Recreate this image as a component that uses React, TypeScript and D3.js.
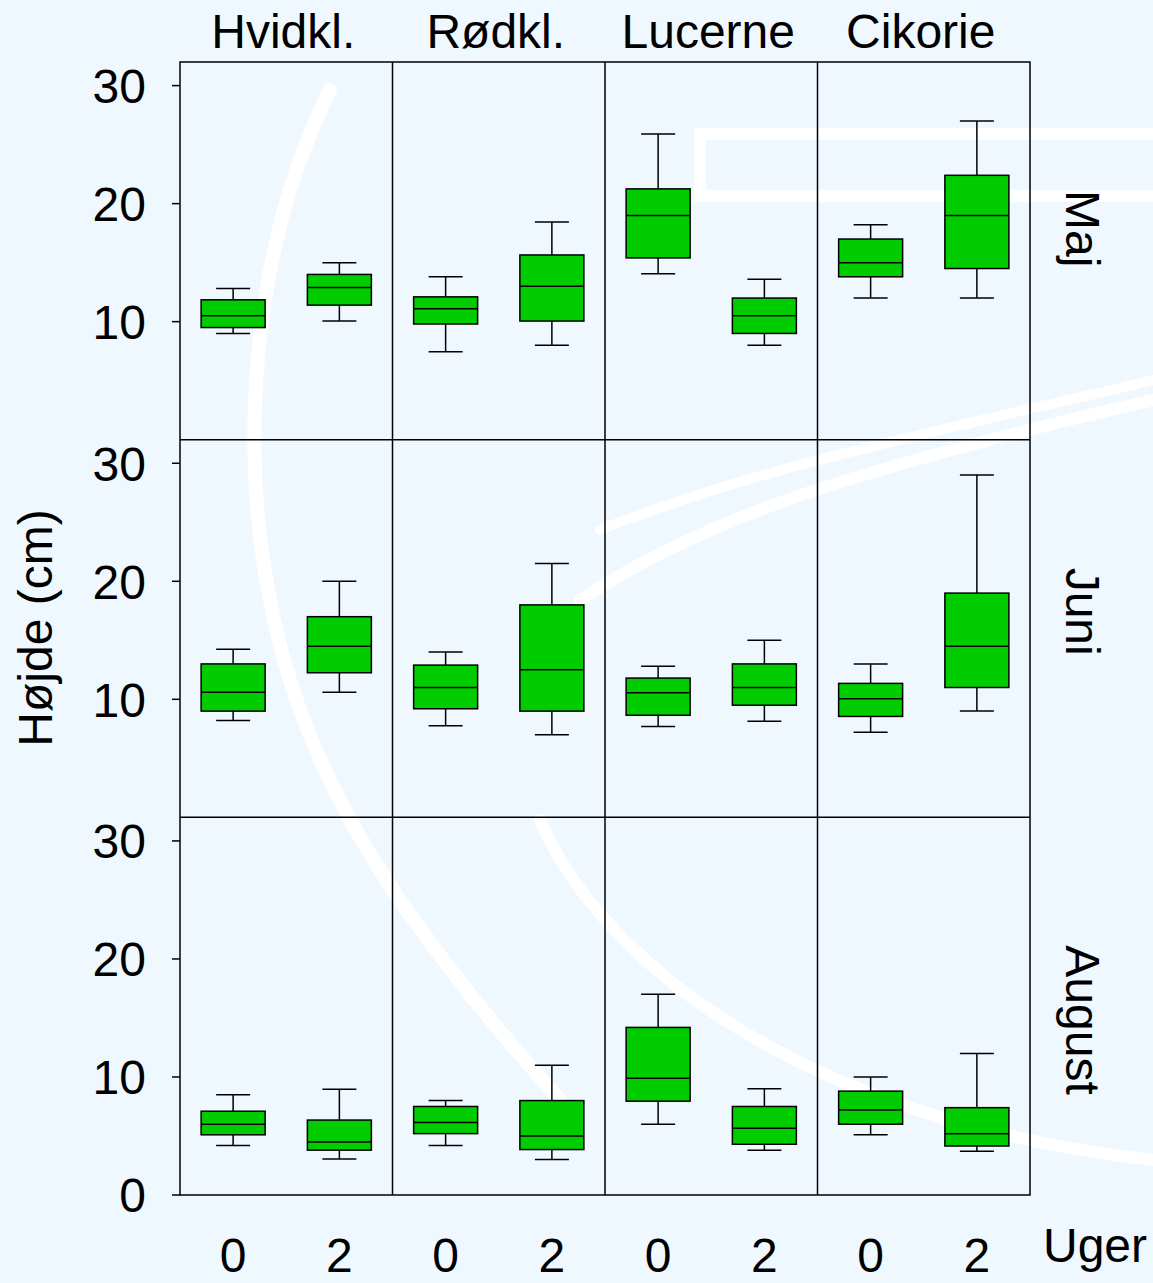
import React, { useLayoutEffect } from "react";
import * as d3 from "d3";

// ---- data ----
const columns = ["Hvidkl.", "Rødkl.", "Lucerne", "Cikorie"];
const months = ["Maj", "Juni", "August"];
const weeks = ["0", "2"];
// [lower whisker, Q1, median, Q3, upper whisker] per column, per week (0, 2)
const majStats: number[][] = [
  [9.0, 9.5, 10.5, 11.85, 12.8], [10.05, 11.4, 12.9, 14.0, 15.0],
  [7.45, 9.8, 11.1, 12.1, 13.8], [8.0, 10.05, 13.0, 15.65, 18.45],
  [14.05, 15.4, 19.0, 21.25, 25.9], [8.0, 9.0, 10.5, 12.0, 13.6],
  [12.0, 13.8, 15.0, 17.0, 18.2], [12.0, 14.5, 19.0, 22.4, 27.0],
];
const juniStats: number[][] = [
  [8.2, 9.0, 10.6, 13.0, 14.25], [10.6, 12.25, 14.5, 17.0, 20.0],
  [7.75, 9.2, 11.0, 12.9, 14.0], [7.0, 9.0, 12.5, 18.0, 21.5],
  [7.7, 8.65, 10.55, 11.8, 12.8], [8.15, 9.5, 11.0, 13.0, 15.0],
  [7.2, 8.55, 10.05, 11.35, 13.0], [9.0, 11.0, 14.5, 19.0, 29.0],
];
const augustStats: number[][] = [
  [4.2, 5.1, 6.0, 7.1, 8.5], [3.05, 3.8, 4.5, 6.35, 8.95],
  [4.2, 5.2, 6.15, 7.5, 8.0], [3.0, 3.85, 5.0, 8.0, 11.0],
  [6.0, 7.95, 9.9, 14.2, 17.0], [3.8, 4.3, 5.65, 7.5, 9.0],
  [5.1, 6.0, 7.2, 8.8, 10.0], [3.7, 4.15, 5.2, 7.4, 12.0],
];
const allStats = [majStats, juniStats, augustStats];
const yTicksUpper = [10, 20, 30];
const yTicksBottom = [0, 10, 20, 30];
const yLabel = "Højde (cm)";
const xLabel = "Uger";

// ---- layout ----
const W = 1153;
const H = 1283;
const left = 180;
const right = 1030;
const top = 62;
const bottom = 1195;
const FONT = "'Liberation Sans', Arial, Helvetica, sans-serif";
const BG = "#f0f8ff";
const GREEN = "#00cc00";

export default function App() {
  useLayoutEffect(() => {
    document.body.style.margin = "0";
    document.body.style.background = BG;
    document.documentElement.style.background = BG;
  }, []);

  const colScale = d3.scaleBand<string>().domain(columns).range([left, right]).paddingInner(0).paddingOuter(0);
  const rowScale = d3.scaleBand<string>().domain(months).range([top, bottom]).paddingInner(0).paddingOuter(0);
  const cw = colScale.bandwidth();
  const rh = rowScale.bandwidth();
  const weekScale = d3.scalePoint<string>().domain(weeks).range([0, cw]).padding(0.5);
  const boxW = 64;
  const capW = 34;

  return (
    <div style={{ width: W, height: H, background: BG }}>
      <svg width={W} height={H} style={{ display: "block", fontFamily: FONT }}>
        <rect x={0} y={0} width={W} height={H} fill={BG} />
        {/* faint watermark */}
        <g fill="none" stroke="#ffffff" strokeLinecap="round">
          <rect x={700} y={134} width={470} height={62} strokeWidth={12} />
          <path d="M580,600 C700,520 850,470 1153,400" strokeWidth={12} />
          <path d="M600,530 C750,470 900,440 1153,380" strokeWidth={10} />
          <path d="M540,820 C600,960 800,1120 1153,1160" strokeWidth={12} />
          <path d="M330,90 C250,250 240,450 270,600 C300,760 380,900 560,1100" strokeWidth={14} />
        </g>

        {months.map((m, r) => {
          const y0 = rowScale(m)!;
          const y = d3.scaleLinear().domain([0, 32]).range([y0 + rh, y0]);
          const ticks = r === months.length - 1 ? yTicksBottom : yTicksUpper;
          return (
            <g key={m}>
              {ticks.map((t) => (
                <g key={t}>
                  <line x1={left - 8} x2={left} y1={y(t)} y2={y(t)} stroke="#000" strokeWidth={1.5} />
                  <text x={146} y={y(t)} dy="0.36em" textAnchor="end" fontSize={48} fill="#000">
                    {t}
                  </text>
                </g>
              ))}
              {columns.map((c, ci) => {
                const x0 = colScale(c)!;
                return weeks.map((wk, wi) => {
                  const s = allStats[r][ci * 2 + wi];
                  const cx = x0 + weekScale(wk)!;
                  return (
                    <g key={c + wk}>
                      <line x1={cx} x2={cx} y1={y(s[3])} y2={y(s[4])} stroke="#000" strokeWidth={1.5} />
                      <line x1={cx} x2={cx} y1={y(s[0])} y2={y(s[1])} stroke="#000" strokeWidth={1.5} />
                      <line x1={cx - capW / 2} x2={cx + capW / 2} y1={y(s[4])} y2={y(s[4])} stroke="#000" strokeWidth={1.5} />
                      <line x1={cx - capW / 2} x2={cx + capW / 2} y1={y(s[0])} y2={y(s[0])} stroke="#000" strokeWidth={1.5} />
                      <rect
                        x={cx - boxW / 2}
                        y={y(s[3])}
                        width={boxW}
                        height={y(s[1]) - y(s[3])}
                        fill={GREEN}
                        stroke="#000"
                        strokeWidth={1.5}
                      />
                      <line x1={cx - boxW / 2} x2={cx + boxW / 2} y1={y(s[2])} y2={y(s[2])} stroke="#000" strokeWidth={1.5} />
                    </g>
                  );
                });
              })}
              {r > 0 && <line x1={left} x2={right} y1={y0} y2={y0} stroke="#000" strokeWidth={1.5} />}
              <text
                transform={`translate(1066,${y0 + 128}) rotate(90)`}
                textAnchor="start"
                fontSize={48}
                fill="#000"
              >
                {m}
              </text>
            </g>
          );
        })}

        {columns.map((c, ci) => {
          const x0 = colScale(c)!;
          return (
            <g key={c}>
              {ci > 0 && <line x1={x0} x2={x0} y1={top} y2={bottom} stroke="#000" strokeWidth={1.5} />}
              <text x={x0 + cw / 2 - 3} y={48} textAnchor="middle" fontSize={48} fill="#000">
                {c}
              </text>
              {weeks.map((wk) => (
                <text key={wk} x={x0 + weekScale(wk)!} y={1272} textAnchor="middle" fontSize={48} fill="#000">
                  {wk}
                </text>
              ))}
            </g>
          );
        })}

        <rect x={left} y={top} width={right - left} height={bottom - top} fill="none" stroke="#000" strokeWidth={1.5} />

        <text transform="translate(52,628) rotate(-90)" textAnchor="middle" fontSize={48} fill="#000">
          {yLabel}
        </text>
        <text x={1043} y={1262} fontSize={48} fill="#000">
          {xLabel}
        </text>
      </svg>
    </div>
  );
}
